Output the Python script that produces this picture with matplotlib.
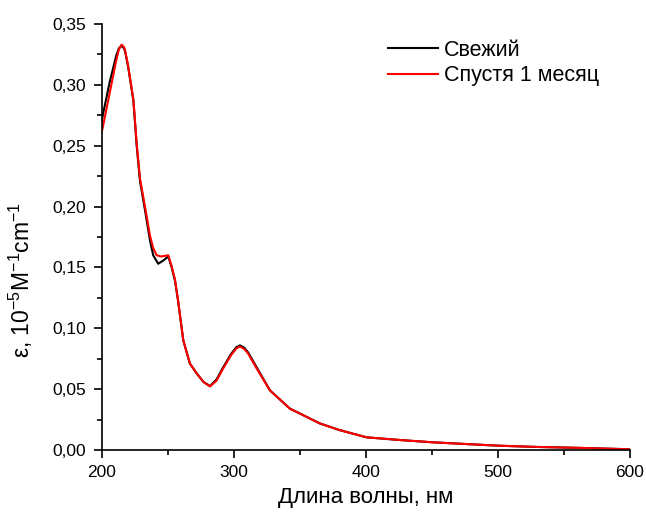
import matplotlib.pyplot as plt
from matplotlib.ticker import MultipleLocator, FuncFormatter

plt.rcParams['font.family'] = ['Liberation Sans', 'DejaVu Sans']
plt.rcParams['mathtext.fontset'] = 'custom'
plt.rcParams['mathtext.rm'] = 'Liberation Sans'
plt.rcParams['mathtext.it'] = 'Liberation Sans:italic'

# wavelength (nm) and extinction values
wl_fresh = [200, 201, 206, 211, 213, 215, 217, 218, 220, 222, 224, 226.5, 229, 232.8,
            236.6, 239, 242.8, 247, 250.4, 253, 255.5, 257.8, 261.8, 266.8, 271.9,
            277, 282, 287, 292, 298, 302, 304.7, 308, 311, 317.3, 327.4, 342.5, 350,
            365, 380, 400.6, 426, 451, 476, 501.5, 530, 560, 600]
eps_fresh = [0.270, 0.276, 0.302, 0.324, 0.330, 0.332, 0.330, 0.326, 0.315, 0.301,
             0.287, 0.250, 0.221, 0.197, 0.172, 0.160, 0.153, 0.156, 0.159, 0.150,
             0.139, 0.123, 0.090, 0.071, 0.063, 0.056, 0.0525, 0.058, 0.068, 0.079,
             0.0845, 0.086, 0.084, 0.080, 0.068, 0.049, 0.034, 0.030, 0.0219, 0.0164,
             0.0104, 0.0082, 0.0063, 0.0049, 0.0035, 0.0025, 0.0018, 0.0006]

wl_month = [200, 201, 206, 211, 213, 215, 217, 218, 220, 222, 224, 226.5, 229, 232.8,
            236.6, 239, 241.6, 245, 250.4, 253, 255.5, 257.8, 261.8, 266.8, 271.9,
            277, 282, 287, 292, 298, 302, 304.7, 308, 311, 317.3, 327.4, 342.5, 350,
            365, 380, 400.6, 426, 451, 476, 501.5, 530, 560, 600]
eps_month = [0.261, 0.266, 0.293, 0.320, 0.329, 0.333, 0.331, 0.327, 0.316, 0.302,
             0.288, 0.252, 0.223, 0.200, 0.176, 0.166, 0.160, 0.159, 0.160, 0.151,
             0.140, 0.123, 0.090, 0.071, 0.063, 0.056, 0.0522, 0.057, 0.067, 0.078,
             0.0835, 0.085, 0.083, 0.079, 0.067, 0.049, 0.034, 0.030, 0.0219, 0.0164,
             0.0104, 0.0082, 0.0063, 0.0049, 0.0035, 0.0025, 0.0018, 0.0006]

fig = plt.figure(figsize=(6.46, 5.15), dpi=100)
ax = fig.add_axes([0.1574, 0.1262, 0.8178, 0.8272])

ax.plot(wl_fresh, eps_fresh, color='black', lw=1.5, label='Свежий')
ax.plot(wl_month, eps_month, color='#ff0000', lw=1.5, label='Спустя 1 месяц')

ax.set_xlim(200, 600)
ax.set_ylim(0, 0.35)
ax.xaxis.set_major_locator(MultipleLocator(100))
ax.xaxis.set_minor_locator(MultipleLocator(50))
ax.yaxis.set_major_locator(MultipleLocator(0.05))
ax.yaxis.set_minor_locator(MultipleLocator(0.025))
ax.yaxis.set_major_formatter(FuncFormatter(lambda v, p: f'{v:.2f}'.replace('.', ',')))

for s in ['top', 'right']:
    ax.spines[s].set_visible(False)
for s in ['left', 'bottom']:
    ax.spines[s].set_linewidth(1.2)
ax.tick_params(which='major', direction='out', length=6, width=1.2, labelsize=12.5, pad=5)
ax.tick_params(which='minor', direction='out', length=3.5, width=1.2)

ax.set_xlabel('Длина волны, нм', fontsize=16, va='top')
ax.xaxis.set_label_coords(0.5, -0.087)
ax.set_ylabel(r'ε, 10$^{-5}$M$^{-1}$cm$^{-1}$', fontsize=16.5)
ax.yaxis.set_label_coords(-0.126, 0.40)

ax.legend(loc='upper left', bbox_to_anchor=(388 / 646, 1 - 40 / 515),
          bbox_transform=fig.transFigure, frameon=False, borderpad=0,
          borderaxespad=0, fontsize=15.5, handlelength=2.3, handletextpad=0.3,
          labelspacing=0.2)

fig.savefig('out.png', dpi=100)
